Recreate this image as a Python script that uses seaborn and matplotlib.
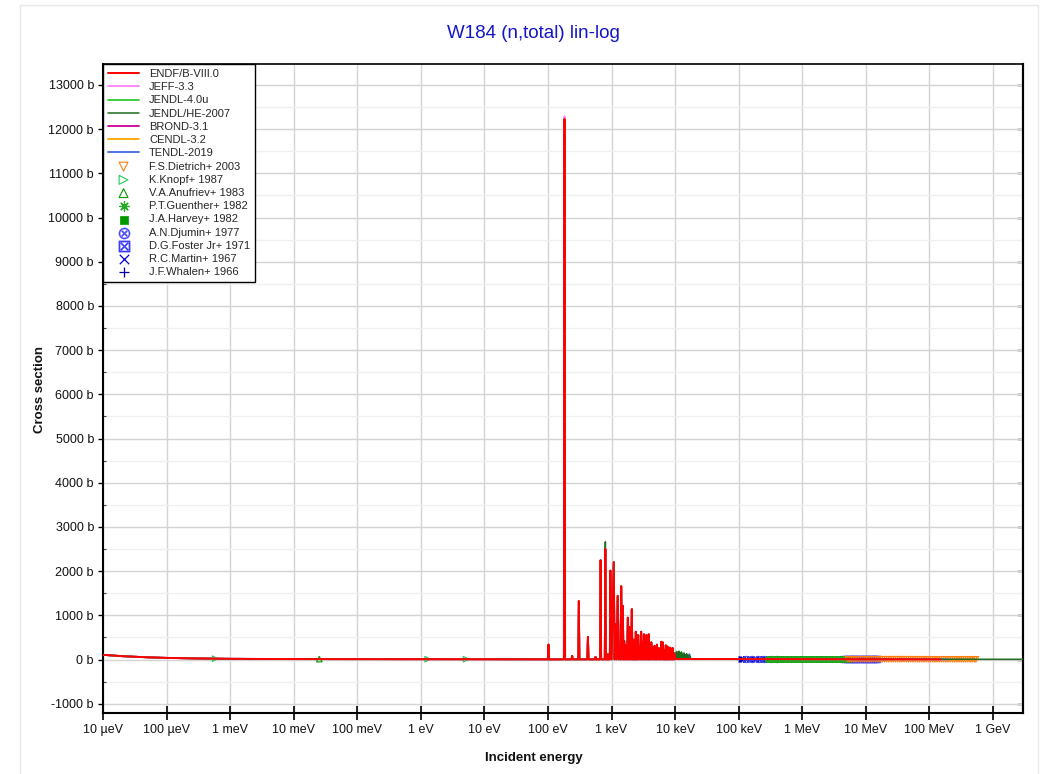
import numpy as np
import matplotlib
matplotlib.use("Agg")
import matplotlib.pyplot as plt
import seaborn as sns
from matplotlib.ticker import FixedLocator, MultipleLocator, FuncFormatter, NullLocator
from matplotlib.patches import Rectangle

# ---------------- data ----------------
title = "W184 (n,total) lin-log"
x_label = "Incident energy"
y_label = "Cross section"

x_tick_values = [1e-5, 1e-4, 1e-3, 1e-2, 1e-1, 1e0, 1e1, 1e2, 1e3, 1e4, 1e5, 1e6, 1e7, 1e8, 1e9]
x_tick_labels = ["10 µeV", "100 µeV", "1 meV", "10 meV", "100 meV", "1 eV", "10 eV",
                 "100 eV", "1 keV", "10 keV", "100 keV", "1 MeV", "10 MeV", "100 MeV", "1 GeV"]

# ENDF/B-VIII.0 low energy + resolved resonance region (eV, barn)
resolved_E = [
    1e-5, 2e-5, 5e-5, 1e-4, 3e-4, 1e-3, 3e-3, 1e-2, 0.0253, 0.1, 1.0, 10.0, 50.0, 95.0,
    99.5, 101.9, 104.0, 150.0, 178.0, 182.0, 186.0, 235.0, 240.0, 245.0,
    300.0, 306.0, 312.0, 416.0, 425.0, 434.0, 550.0, 560.0, 570.0, 660.0,
    673.0, 686.0, 783.0, 799.0, 815.0, 870.0, 880.0, 890.0, 940.0, 958.0,
    1000, 1084, 1117, 1150, 1200, 1250, 1300, 1350, 1385, 1418,
    1460, 1504, 1540, 1580, 1615, 1652, 1685, 1720, 1760, 1806,
    1860, 1920, 1955, 1990, 2035, 2086, 2130, 2180, 2215, 2250,
    2290, 2330, 2370, 2410, 2465, 2520, 2570, 2625, 2690, 2760,
    2840, 2920, 2995, 3070, 3150, 3225, 3300, 3380, 3460, 3540,
    3620, 3700, 3770, 3846, 3920, 4000, 4110, 4220, 4350, 4480,
    4620, 4760, 4850, 4950, 5070, 5190, 5340, 5500, 5650, 5800,
    5930, 6060, 6230, 6400, 6550, 6700, 6800, 6900, 7020, 7140,
    7270, 7400, 7500, 7600, 7750, 7900, 8100, 8330, 8500, 8700,
    8900, 9100, 9300, 9500, 9700, 9900, 10000]
resolved_xs = [
    106, 76, 50, 37, 24, 16, 12, 10, 9.2, 8.3, 7.8, 7.5, 7.0, 5.0,
    3, 337, 3, 5, 5, 12230, 4, 5, 84, 5,
    5, 1323, 5, 5, 511, 5, 5, 60, 5, 5,
    2245, 5, 5, 2500, 5, 5, 120, 5, 5, 2010,
    4, 2203, 4, 796, 4, 1440, 4, 300, 4, 1658,
    4, 1214, 4, 420, 4, 335, 4, 250, 4, 946,
    4, 737, 4, 380, 4, 1139, 4, 300, 4, 450,
    4, 280, 4, 628, 4, 350, 4, 553, 4, 300,
    4, 628, 4, 400, 4, 570, 4, 450, 4, 553,
    4, 300, 4, 570, 4, 250, 4, 385, 4, 280,
    4, 310, 4, 200, 4, 335, 4, 260, 4, 180,
    4, 402, 4, 385, 4, 220, 4, 150, 4, 318,
    4, 200, 4, 293, 4, 180, 4, 268, 4, 170,
    4, 260, 4, 150, 4, 120, 12]

# library-specific peak values that differ from ENDF/B-VIII.0
jeff_peak_E = [182.0]
jeff_peak_xs = [12290.0]
jendlhe_peak_E = [799.0]
jendlhe_peak_xs = [2663.0]

# unresolved-region fluctuations
jendlhe_urr_E = [10200, 10400, 10600, 10800, 11000, 11250, 11500, 11750, 12000, 12300,
                 12600, 12900, 13200, 13500, 13800, 14100, 14500, 14850, 15200, 15600,
                 16000, 16500, 17000, 17500]
jendlhe_urr_xs = [150, 6, 180, 6, 140, 6, 190, 6, 160, 6,
                  170, 6, 120, 6, 150, 6, 110, 6, 130, 6,
                  100, 6, 90, 11]
tendl_urr_E = [10900, 11100, 12900, 13100, 14700, 14900, 16800, 17000, 17300, 17500]
tendl_urr_xs = [100, 6, 110, 6, 95, 6, 120, 6, 60, 11]

# smooth region above the resonances
smooth_E = [2.0e4, 5.0e4, 1.0e5, 2.0e5, 5.0e5, 1.0e6, 2.0e6, 4.0e6, 6.0e6, 1.0e7,
            1.5e7, 2.0e7, 5.0e7, 1.0e8, 1.5e8, 2.0e8, 5.0e8, 1.0e9, 3.0e9]
smooth_xs = [11.5, 10.8, 10.2, 9.3, 7.8, 6.8, 6.4, 7.2, 6.3, 5.3,
             5.4, 5.7, 5.6, 4.9, 4.7, 4.6, 4.6, 4.6, 4.7]

libraries = ["ENDF/B-VIII.0", "JEFF-3.3", "JENDL-4.0u", "JENDL/HE-2007", "BROND-3.1", "CENDL-3.2", "TENDL-2019"]
library_colors = ["#ff0000", "#ff80ff", "#33cc33", "#1f6b1f", "#cc0099", "#ffa500", "#4169e1"]
library_emax = [1.5e8, 2.0e8, 2.0e7, 3.0e9, 2.0e7, 2.0e7, 2.0e8]

# experimental data (eV, barn)
dietrich_E_MeV = [5.2, 5.6, 6.0, 6.5, 7.0, 7.6, 8.2, 8.9, 9.6, 10.4,
                  11.3, 12.2, 13.2, 14.3, 15.5, 16.8, 18.2, 19.7, 21.3, 23.0,
                  25.0, 27.0, 29.3, 31.7, 34.3, 37.0, 40.0, 43.5, 47.0, 51.0,
                  55.0, 60.0, 65.0, 70.0, 76.0, 82.0, 89.0, 96.0, 104, 113,
                  122, 132, 143, 155, 168, 182, 197, 213, 231, 250,
                  270, 293, 317, 343, 371, 402, 435, 471, 510, 540]
dietrich_xs = [5.9, 5.8, 5.7, 5.6, 5.5, 5.4, 5.3, 5.3, 5.2, 5.2,
               5.2, 5.3, 5.3, 5.4, 5.5, 5.5, 5.6, 5.6, 5.7, 5.7,
               5.7, 5.7, 5.7, 5.6, 5.6, 5.5, 5.5, 5.4, 5.3, 5.3,
               5.2, 5.1, 5.0, 5.0, 4.9, 4.9, 4.8, 4.8, 4.7, 4.7,
               4.7, 4.6, 4.6, 4.6, 4.6, 4.6, 4.6, 4.6, 4.6, 4.6,
               4.6, 4.6, 4.6, 4.7, 4.7, 4.7, 4.7, 4.7, 4.7, 4.7]
knopf_E = [5.8e-4, 1.28, 5.15]
knopf_xs = [19.0, 8.0, 7.8]
anufriev_E = [0.0253]
anufriev_xs = [9.3]
guenther_E = [2.8e5, 3.0e5, 3.2e5, 3.4e5, 3.6e5, 3.9e5, 4.2e5, 4.5e5, 4.8e5, 5.2e5,
              5.6e5, 6.0e5, 6.5e5, 7.0e5, 7.5e5, 8.1e5, 8.7e5, 9.4e5, 1.01e6, 1.09e6,
              1.17e6, 1.26e6, 1.36e6, 1.46e6, 1.57e6, 1.69e6, 1.82e6, 1.96e6, 2.11e6, 2.27e6,
              2.45e6, 2.64e6, 2.84e6, 3.06e6, 3.3e6, 3.55e6, 3.82e6, 4.12e6, 4.43e6, 4.77e6]
guenther_xs = [8.9, 8.8, 8.6, 8.5, 8.4, 8.2, 8.1, 7.9, 7.8, 7.6,
               7.5, 7.4, 7.3, 7.1, 7.0, 6.9, 6.8, 6.8, 6.7, 6.6,
               6.6, 6.5, 6.5, 6.4, 6.4, 6.4, 6.5, 6.5, 6.6, 6.7,
               6.8, 6.9, 7.0, 7.1, 7.1, 7.2, 7.2, 7.1, 7.1, 7.0]
harvey_E = [3.1e5, 3.7e5, 4.4e5, 5.3e5, 6.3e5, 7.5e5, 9.0e5, 1.07e6, 1.28e6, 1.53e6,
            1.83e6, 2.18e6, 2.6e6, 3.1e6, 3.7e6, 4.4e6, 5.0e6]
harvey_xs = [8.7, 8.3, 8.0, 7.6, 7.3, 7.0, 6.8, 6.6, 6.5, 6.4,
             6.4, 6.6, 6.8, 7.0, 7.1, 7.1, 7.0]
djumin_E = [1.3e5, 1.6e5, 2.0e5, 2.5e5, 3.2e5, 4.0e5]
djumin_xs = [10.1, 9.7, 9.4, 8.9, 8.5, 8.1]
foster_E = [4.6e6, 5.0e6, 5.5e6, 6.0e6, 6.5e6, 7.1e6, 7.7e6, 8.4e6, 9.2e6, 10.0e6,
            10.9e6, 11.9e6, 13.0e6, 14.1e6, 15.0e6]
foster_xs = [7.1, 7.0, 6.8, 6.6, 6.3, 6.1, 5.9, 5.7, 5.5, 5.3,
             5.3, 5.3, 5.3, 5.4, 5.4]
martin_E = [1.1e5, 1.3e5, 1.5e5, 1.8e5, 2.1e5, 2.5e5, 3.0e5, 3.6e5, 4.3e5, 5.1e5,
            6.1e5, 7.3e5, 8.7e5, 1.04e6, 1.24e6, 1.48e6, 1.77e6, 2.1e6, 2.5e6, 3.0e6,
            3.6e6, 4.3e6, 5.0e6]
martin_xs = [10.4, 10.1, 9.8, 9.4, 9.2, 8.9, 8.7, 8.4, 8.1, 7.8,
             7.5, 7.2, 6.9, 6.7, 6.6, 6.5, 6.5, 6.5, 6.7, 6.9,
             7.1, 7.2, 7.1]
whalen_E = [1.0e5, 1.05e5, 1.1e5, 1.16e5, 1.22e5, 1.28e5, 1.35e5, 1.42e5, 1.5e5, 1.58e5,
            1.66e5, 1.75e5, 1.84e5, 1.94e5, 2.04e5, 2.15e5, 2.27e5, 2.39e5, 2.52e5, 2.65e5,
            2.8e5, 3.0e5]
whalen_xs = [10.6, 10.5, 10.4, 10.3, 10.2, 10.1, 10.0, 9.9, 9.8, 9.7,
             9.6, 9.5, 9.4, 9.3, 9.3, 9.2, 9.1, 9.0, 8.9, 8.9,
             8.8, 8.7]

# ---------------- style ----------------
sns.set_theme(style="white")
plt.rcParams['font.family'] = ['Liberation Sans', 'DejaVu Sans']
plt.rcParams['mathtext.fontset'] = 'dejavusans'

W, H = 1053, 774
fig = plt.figure(figsize=(W / 100, H / 100), dpi=100)
fig.patch.set_facecolor("white")
fig.patches.append(Rectangle((20 / W, -0.05), (1038 - 20) / W, 1.05 - 5 / H, transform=fig.transFigure,
                             fill=False, edgecolor="#e8e8e8", lw=1.0, zorder=0))
ax = fig.add_axes([103 / W, 1 - 713 / H, 920 / W, 649 / H])
ax.set_xscale("log")


def lib_curve(idx, overrides_E=None, overrides_xs=None, urr_E=None, urr_xs=None):
    over = dict(zip(overrides_E or [], overrides_xs or []))
    E = list(resolved_E)
    xs = [over.get(e, v) for e, v in zip(resolved_E, resolved_xs)]
    if urr_E is not None:
        E += list(urr_E)
        xs += list(urr_xs)
    emax = library_emax[idx]
    for e, v in zip(smooth_E, smooth_xs):
        if e > E[-1] and e <= emax:
            E.append(e)
            xs.append(v)
    return np.array(E, dtype=float), np.array(xs, dtype=float)


curves = {
    0: lib_curve(0),
    1: lib_curve(1, jeff_peak_E, jeff_peak_xs),
    2: lib_curve(2),
    3: lib_curve(3, jendlhe_peak_E, jendlhe_peak_xs, jendlhe_urr_E, jendlhe_urr_xs),
    4: lib_curve(4),
    5: lib_curve(5),
    6: lib_curve(6, urr_E=tendl_urr_E, urr_xs=tendl_urr_xs),
}
draw_order = [6, 5, 4, 2, 1, 3, 0]
zorders = {6: 3.0, 5: 3.1, 4: 3.2, 2: 3.3, 1: 3.4, 3: 3.45, 0: 3.6}
widths = {6: 1.3, 5: 1.3, 4: 1.3, 2: 1.3, 1: 1.3, 3: 1.1, 0: 1.4}
for i in draw_order:
    E, xs = curves[i]
    sns.lineplot(x=E, y=xs, ax=ax, color=library_colors[i], lw=widths[i], label=libraries[i],
                 estimator=None, sort=False, zorder=zorders[i])

# experimental data (legend order)
exp_sets = [
    ("F.S.Dietrich+ 2003", np.array(dietrich_E_MeV) * 1e6, dietrich_xs, "v", "#ff7f0e", True, 2.9),
    ("K.Knopf+ 1987", knopf_E, knopf_xs, ">", "#22cc55", True, 2.8),
    ("V.A.Anufriev+ 1983", anufriev_E, anufriev_xs, "^", "#009900", True, 2.8),
    ("P.T.Guenther+ 1982", guenther_E, guenther_xs, (8, 2, 0), "#22aa22", False, 2.7),
    ("J.A.Harvey+ 1982", harvey_E, harvey_xs, "s", "#009900", False, 2.6),
    ("A.N.Djumin+ 1977", djumin_E, djumin_xs, r"$\otimes$", "#4a4aff", False, 2.5),
    ("D.G.Foster Jr+ 1971", foster_E, foster_xs, r"$\boxtimes$", "#3b3bff", False, 2.55),
    ("R.C.Martin+ 1967", martin_E, martin_xs, "x", "#0000cc", False, 2.3),
    ("J.F.Whalen+ 1966", whalen_E, whalen_xs, "+", "#0000aa", False, 2.4),
]
for lab, E, xs, m, c, is_open, z in exp_sets:
    kw = dict(marker=m, color=c, label=lab, zorder=z, ax=ax)
    if is_open:
        kw.update(s=16, facecolor="none", edgecolor=c, linewidth=0.8)
    elif m in ("x", "+") or isinstance(m, tuple):
        kw.update(s=18, linewidth=0.9)
    elif m.startswith("$"):
        kw.update(s=26, edgecolor=c, linewidth=0.2)
    else:
        kw.update(s=14, edgecolor=c, linewidth=0.5)
    sns.scatterplot(x=np.asarray(E, float), y=np.asarray(xs, float), **kw)

# ---------------- axes ----------------
ax.set_xlim(1e-5, 2.97e9)
ax.set_ylim(-1210, 13475)

ax.xaxis.set_major_locator(FixedLocator(x_tick_values))
ax.xaxis.set_minor_locator(NullLocator())
ax.set_xticks(x_tick_values)
ax.set_xticklabels(x_tick_labels)
ax.yaxis.set_major_locator(MultipleLocator(1000))
ax.yaxis.set_minor_locator(MultipleLocator(500))
ax.yaxis.set_major_formatter(FuncFormatter(lambda v, p: f"{v:.0f} b"))

ax.grid(which="major", axis="x", color="#d4d4d4", lw=1.0, zorder=0)
ax.grid(which="major", axis="y", color="#d4d4d4", lw=1.0, zorder=0)
ax.grid(which="minor", axis="y", color="#f0f0f0", lw=1.0, zorder=0)
ax.set_axisbelow(True)

ax.tick_params(axis="x", which="major", direction="inout", length=10, width=1.2, color="black",
               labelsize=9, pad=3, top=False, bottom=True, labelcolor="#111111")
ax.tick_params(axis="y", which="major", direction="out", length=3.5, width=1.0, color="black",
               labelsize=9, pad=3, left=True, right=False, labelcolor="#111111")
ax.tick_params(axis="y", which="minor", direction="in", length=2.5, width=0.8, color="#444444",
               left=True, right=False)
for s in ax.spines.values():
    s.set_color("black")
    s.set_linewidth(1.5)
ax.spines["top"].set_linewidth(1.2)

sec = ax.secondary_yaxis("right")
sec.yaxis.set_major_locator(MultipleLocator(1000))
sec.yaxis.set_minor_locator(MultipleLocator(500))
sec.tick_params(which="major", direction="in", length=4, width=1.0, color="black", labelright=False)
sec.tick_params(which="minor", direction="in", length=2.5, width=0.8, color="#444444")
sec.spines["right"].set_linewidth(1.5)
sec.spines["right"].set_color("black")

ax.set_xlabel(x_label, fontsize=9.5, fontweight="bold", color="#111111")
ax.xaxis.set_label_coords(0.4685, -0.060)
ax.set_ylabel(y_label, fontsize=9.5, fontweight="bold", color="#111111")
ax.yaxis.set_label_coords(-0.062, 0.4977)

fig.text(533.5 / W, 1 - 33 / H, title, ha="center", va="center", fontsize=13.5, color="#1414c8")

# legend
handles, labels = ax.get_legend_handles_labels()
hmap = dict(zip(labels, handles))
order = libraries + [e[0] for e in exp_sets]
leg = ax.legend([hmap[l] for l in order], order, loc="upper left", bbox_to_anchor=(0, 1),
                borderaxespad=0, fontsize=8, frameon=True, fancybox=False, framealpha=1,
                edgecolor="black", handlelength=2.8, handletextpad=0.9, labelspacing=0.29,
                borderpad=0.45, markerscale=1.6)
leg.get_frame().set_linewidth(1.0)
leg.set_zorder(10)

fig.savefig("out.png", dpi=100)
